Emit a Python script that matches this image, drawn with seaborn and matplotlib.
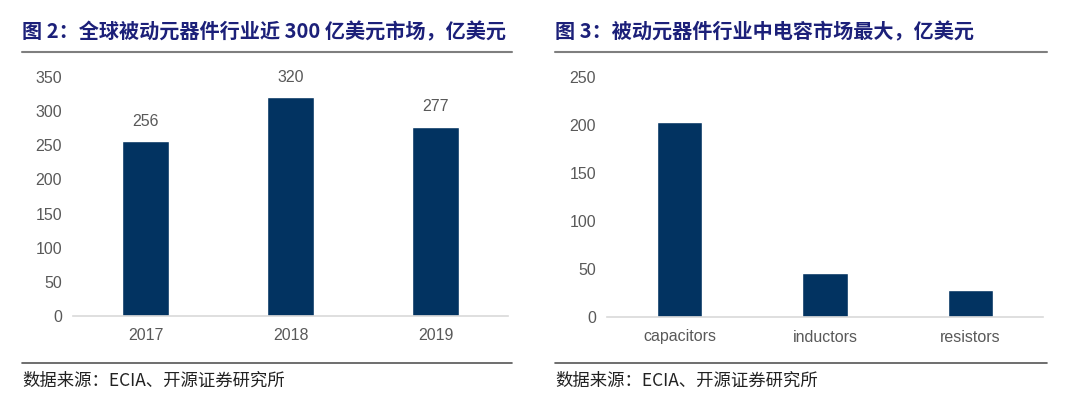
import matplotlib
matplotlib.use("Agg")
import matplotlib.pyplot as plt
from matplotlib.lines import Line2D
import seaborn as sns
import pandas as pd

years = ["2017", "2018", "2019"]
market = [256, 320, 277]

parts = ["capacitors", "inductors", "resistors"]
part_market = [203, 46, 28]

title_left = "图 2：全球被动元器件行业近 300 亿美元市场，亿美元"
title_right = "图 3：被动元器件行业中电容市场最大，亿美元"
source = "数据来源：ECIA、开源证券研究所"

sns.set_theme(style="white")
plt.rcParams["font.family"] = ["Liberation Sans", "Noto Sans CJK SC", "DejaVu Sans"]

W, H = 1080, 397
fig = plt.figure(figsize=(W / 100, H / 100), dpi=100)
bar_color = "#023361"
tick_color = "#595959"


def px_axes(x0, x1, ytop, ybot):
    return fig.add_axes([x0 / W, 1 - ybot / H, (x1 - x0) / W, (ybot - ytop) / H])


def style(ax, ymax, step):
    ax.set_ylim(0, ymax)
    ax.set_yticks(range(0, ymax + 1, step))
    ax.set_xlabel("")
    ax.set_ylabel("")
    for s in ["left", "top", "right"]:
        ax.spines[s].set_visible(False)
    ax.spines["bottom"].set_color("#d9d9d9")
    ax.spines["bottom"].set_linewidth(1.2)
    ax.tick_params(axis="y", length=0, pad=8, labelsize=11.5, labelcolor=tick_color)
    ax.tick_params(axis="x", length=0, pad=9, labelsize=11.5, labelcolor=tick_color)


# left chart
ax1 = px_axes(73, 508, 77, 316)
df1 = pd.DataFrame({"year": years, "value": market})
sns.barplot(ax=ax1, data=df1, x="year", y="value", color=bar_color, width=0.32, saturation=1)
style(ax1, 350, 50)
ax1.bar_label(ax1.containers[0], padding=9, fontsize=11.5, color=tick_color)

# right chart
ax2 = px_axes(607, 1043, 77, 317)
df2 = pd.DataFrame({"part": parts, "value": part_market})
sns.barplot(ax=ax2, data=df2, x="part", y="value", color=bar_color, width=0.31, saturation=1)
style(ax2, 250, 50)

# titles, rules and source notes
title_font = ["Noto Sans CJK SC", "DejaVu Sans"]
for x0, x1, title in [(22, 512, title_left), (555, 1047, title_right)]:
    fig.text(x0 / W, 1 - 32 / H, title, fontsize=14.5, fontweight="bold",
             color="#1c2079", family=title_font, va="center", ha="left")
    fig.add_artist(Line2D([x0 / W, x1 / W], [1 - 52 / H] * 2, color="#7f7f7f", lw=1.5))
    fig.add_artist(Line2D([x0 / W, x1 / W], [1 - 363 / H] * 2, color="#555555", lw=1.2))
    fig.text(x0 / W, 1 - 381 / H, source, fontsize=12.5, color="#222222",
             family=title_font, va="center", ha="left")

fig.savefig("out.png", dpi=100)
